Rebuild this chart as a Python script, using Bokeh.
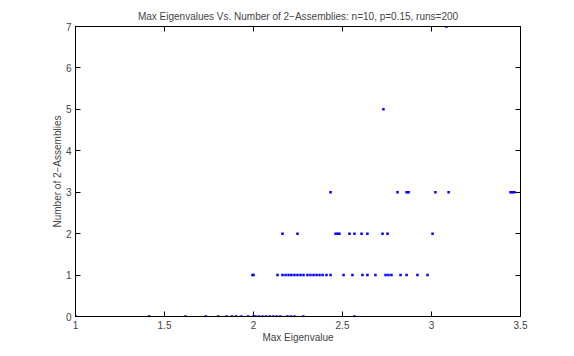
from bokeh.plotting import figure
from bokeh.models import FixedTicker, LinearAxis, Range1d
from bokeh.embed import file_html
from bokeh.resources import INLINE

# Data (max eigenvalue, number of 2-assemblies)
x_row0 = [1.0, 1.414, 1.618, 1.732, 1.802, 1.848, 1.879, 1.902, 1.932, 1.97, 2.0,
          2.01, 2.03, 2.05, 2.07, 2.09, 2.11, 2.13, 2.15, 2.19, 2.21, 2.23, 2.28, 2.567]
x_row1 = [1.994, 2.0, 2.135, 2.163, 2.18, 2.197, 2.213, 2.23, 2.247, 2.264, 2.281,
          2.303, 2.32, 2.337, 2.354, 2.371, 2.388, 2.41, 2.433, 2.506, 2.556, 2.612,
          2.64, 2.685, 2.742, 2.758, 2.775, 2.826, 2.86, 2.921, 2.978]
x_row2 = [2.163, 2.247, 2.461, 2.472, 2.483, 2.539, 2.567, 2.607, 2.64, 2.725, 2.753, 3.006]
x_row3 = [2.433, 2.809, 2.86, 2.871, 3.022, 3.096, 3.444, 3.455, 3.466]
x_row5 = [2.73]
x_row7 = [3.084]

eig = x_row0 + x_row1 + x_row2 + x_row3 + x_row5 + x_row7
count = ([0] * len(x_row0) + [1] * len(x_row1) + [2] * len(x_row2) +
         [3] * len(x_row3) + [5] * len(x_row5) + [7] * len(x_row7))

x_ticks = [1, 1.5, 2, 2.5, 3, 3.5]
x_tick_labels = ["1", "1.5", "2", "2.5", "3", "3.5"]
y_ticks = [0, 1, 2, 3, 4, 5, 6, 7]

title_text = "Max Eigenvalues Vs. Number of 2\u2212Assemblies: n=10, p=0.15, runs=200"
x_label = "Max Eigenvalue"
y_label = "Number of 2\u2212Assemblies"

FONT = "Liberation Sans"

p = figure(width=574, height=356, output_backend="svg", toolbar_location=None,
           x_range=Range1d(1, 3.5), y_range=Range1d(0, 7),
           min_border_left=75, min_border_right=54, min_border_top=26,
           min_border_bottom=40, title=title_text)
p.title.align = "center"
p.title.text_font = FONT
p.title.text_font_size = "10px"
p.title.text_font_style = "normal"
p.title.standoff = 9
p.grid.visible = False
p.outline_line_color = "black"
p.outline_line_width = 1
p.background_fill_color = "white"
p.border_fill_color = "white"

for ax in (p.xaxis[0], p.yaxis[0]):
    ax.major_tick_in = 5
    ax.major_tick_out = 0
    ax.minor_tick_in = 0
    ax.minor_tick_out = 0
    ax.major_label_text_font = FONT
    ax.major_label_text_font_size = "10px"
    ax.axis_label_text_font = FONT
    ax.axis_label_text_font_size = "10px"
    ax.axis_label_text_font_style = "normal"
    ax.axis_line_color = "black"
    ax.major_tick_line_color = "black"

p.xaxis[0].ticker = FixedTicker(ticks=x_ticks)
p.xaxis[0].major_label_overrides = {t: l for t, l in zip(x_ticks, x_tick_labels)}
p.xaxis[0].axis_label = x_label
p.xaxis[0].major_label_standoff = 4
p.xaxis[0].axis_label_standoff = 0
p.yaxis[0].ticker = FixedTicker(ticks=y_ticks)
p.yaxis[0].axis_label = y_label
p.yaxis[0].major_label_standoff = 4
p.yaxis[0].axis_label_standoff = 0

top = LinearAxis(ticker=FixedTicker(ticks=x_ticks), major_tick_in=5, major_tick_out=0,
                 minor_tick_in=0, minor_tick_out=0, major_label_standoff=0,
                 major_label_overrides={t: "" for t in x_ticks})
right = LinearAxis(ticker=FixedTicker(ticks=y_ticks), major_tick_in=5, major_tick_out=0,
                   minor_tick_in=0, minor_tick_out=0, major_label_standoff=0,
                   major_label_overrides={t: "" for t in y_ticks})
p.add_layout(top, "above")
p.add_layout(right, "right")

p.scatter(eig, count, size=2.5, marker="square", color="#0000ff", line_width=0)

open("out.html", "w").write(file_html(p, INLINE))
